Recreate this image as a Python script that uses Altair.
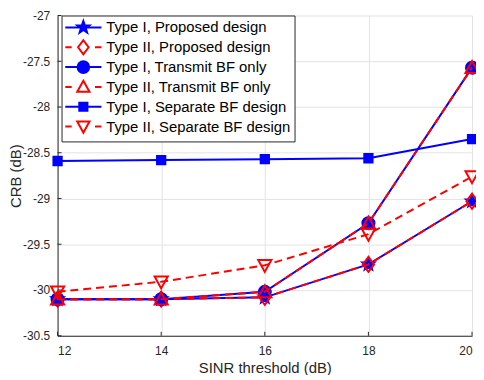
import altair as alt
import pandas as pd

# ---------------- data ----------------
sinr = [12, 14, 16, 18, 20]
x_ticks = [12, 14, 16, 18, 20]
y_ticks = [-30.5, -30, -29.5, -29, -28.5, -28, -27.5, -27]

series_names = [
    "Type I, Proposed design",
    "Type II, Proposed design",
    "Type I, Transmit BF only",
    "Type II, Transmit BF only",
    "Type I, Separate BF design",
    "Type II, Separate BF design",
]
crb_typeI_proposed = [-30.10, -30.10, -30.08, -29.72, -29.03]
crb_typeII_proposed = [-30.10, -30.10, -30.08, -29.72, -29.03]
crb_typeI_transmit = [-30.10, -30.10, -30.02, -29.27, -27.57]
crb_typeII_transmit = [-30.10, -30.10, -30.02, -29.27, -27.57]
crb_typeI_separate = [-28.59, -28.58, -28.57, -28.56, -28.35]
crb_typeII_separate = [-30.02, -29.91, -29.73, -29.39, -28.76]

series_values = [
    crb_typeI_proposed, crb_typeII_proposed,
    crb_typeI_transmit, crb_typeII_transmit,
    crb_typeI_separate, crb_typeII_separate,
]

rows = []
for name, vals in zip(series_names, series_values):
    for xv, yv in zip(sinr, vals):
        rows.append({"sinr": xv, "crb": yv, "series": name})
df = pd.DataFrame(rows)
df_xticks = pd.DataFrame({"sinr": x_ticks})
df_yticks = pd.DataFrame({"crb": y_ticks})

# ---------------- styles ----------------
BLUE = "#0000ff"
RED = "#ff0000"
AXIS = "#262626"


def poly(points, s):
    return "M" + "L".join(f"{x * s:.3f},{y * s:.3f}" for x, y in points) + "Z"


STAR_PTS = [(0, -1.1), (0.265, -0.364), (1.046, -0.34), (0.428, 0.139), (0.647, 0.89),
            (0, 0.45), (-0.647, 0.89), (-0.428, 0.139), (-1.046, -0.34), (-0.265, -0.364)]
DIAMOND_PTS = [(0, -1.2), (0.9, 0), (0, 1.2), (-0.9, 0)]
TRI_UP_PTS = [(0, -1.05), (1.05, 0.85), (-1.05, 0.85)]
SQUARE_PTS = [(-0.7, -0.7), (0.7, -0.7), (0.7, 0.7), (-0.7, 0.7)]
TRI_DOWN_PTS = [(0, 1.05), (1.05, -0.85), (-1.05, -0.85)]


def circle(s):
    return f"M{s:.3f},0A{s:.3f},{s:.3f} 0 1,1 {-s:.3f},0A{s:.3f},{s:.3f} 0 1,1 {s:.3f},0Z"


def marker_set(s):
    return [poly(STAR_PTS, s), poly(DIAMOND_PTS, s), circle(s),
            poly(TRI_UP_PTS, s), poly(SQUARE_PTS, s), poly(TRI_DOWN_PTS, s)]


markers = marker_set(1.0)
is_type1 = [True, False, True, False, True, False]

LS = 0.84  # legend scale
legend_markers = marker_set(LS)
SOLID_SEG = f"M{-3.1 * LS:.3f},0H{3.1 * LS:.3f}"
DASH_SEG = f"M{-3.1 * LS:.3f},0H{-2.0 * LS:.3f}M{2.0 * LS:.3f},0H{3.1 * LS:.3f}"
legend_paths = [(SOLID_SEG if t else DASH_SEG) + m for t, m in zip(is_type1, legend_markers)]
legend_strokes = [BLUE if t else RED for t in is_type1]
legend_fills = [BLUE if t else "white" for t in is_type1]

W, H = 418, 323
FONT = "Liberation Sans"

x_enc = alt.X(
    "sinr:Q",
    scale=alt.Scale(domain=[12, 20], nice=False, zero=False),
    axis=alt.Axis(values=x_ticks, title="SINR threshold (dB)", labelPadding=10,
                  titlePadding=4),
)
y_enc = alt.Y(
    "crb:Q",
    scale=alt.Scale(domain=[-30.5, -27], nice=False, zero=False),
    axis=alt.Axis(values=y_ticks, labelExpr="datum.value + ''", title="CRB (dB)",
                  labelPadding=8, titleX=-42.5, titleY=H / 2, titleBaseline="middle"),
)

legend = alt.Legend(
    title=None, orient="none", legendX=4, legendY=0,
    symbolSize=196, symbolStrokeWidth=2, symbolOffset=10, symbolOpacity=1,
    labelOffset=15, labelFontSize=15, labelFont=FONT, labelColor="#000000",
    labelLimit=400, strokeColor=AXIS, fillColor="white", padding=4,
    rowPadding=-4, gridAlign="all",
)

base = alt.Chart(df)

legend_layer = base.mark_point(opacity=0).encode(
    x=x_enc, y=y_enc,
    shape=alt.Shape("series:N", scale=alt.Scale(domain=series_names, range=legend_paths), legend=legend),
    stroke=alt.Stroke("series:N", scale=alt.Scale(domain=series_names, range=legend_strokes), legend=legend),
    fill=alt.Fill("series:N", scale=alt.Scale(domain=series_names, range=legend_fills), legend=legend),
)

# inward tick marks (MATLAB style)
xtick_layer = alt.Chart(df_xticks).mark_rule(color=AXIS, strokeWidth=1).encode(
    x=x_enc, y=alt.value(H), y2=alt.value(H - 4))
ytick_layer = alt.Chart(df_yticks).mark_rule(color=AXIS, strokeWidth=1).encode(
    y=y_enc, x=alt.value(0), x2=alt.value(4))

layers = [legend_layer, xtick_layer, ytick_layer]
for name, mk, t1 in zip(series_names, markers, is_type1):
    sub = base.transform_filter(alt.datum.series == name)
    if t1:
        line = sub.mark_line(color=BLUE, strokeWidth=2)
        pts = sub.mark_point(shape=mk, size=160, filled=True, color=BLUE,
                             stroke=BLUE, strokeWidth=1.5, opacity=1)
    else:
        line = sub.mark_line(color=RED, strokeWidth=2, strokeDash=[8, 5])
        pts = sub.mark_point(shape=mk, size=160, filled=False, color=RED,
                             strokeWidth=2, opacity=1)
    layers.append(line.encode(x=x_enc, y=y_enc))
    layers.append(pts.encode(x=x_enc, y=y_enc))

chart = alt.layer(*layers).properties(
    width=W, height=H,
    autosize=alt.AutoSizeParams(type="none"),
    padding={"left": 50, "top": 6, "right": 4, "bottom": 38},
).configure_view(stroke=None).configure_axis(
    labelFont=FONT, titleFont=FONT, labelFontSize=12, titleFontSize=15,
    titleFontWeight="normal", labelColor=AXIS, titleColor=AXIS,
    domainColor=AXIS, domainWidth=1, ticks=False, tickSize=0,
    grid=True, gridColor="#e3e3e3", gridWidth=1,
)

chart.save("out.html", embed_options={"renderer": "svg", "actions": False})
